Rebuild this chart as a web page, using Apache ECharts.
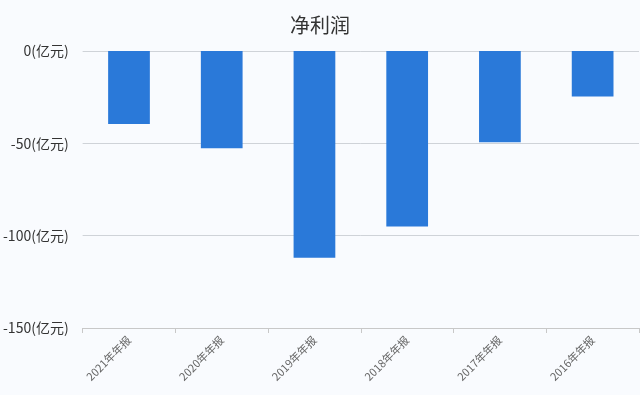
<!DOCTYPE html>
<html>
<head>
<meta charset="utf-8">
<script src="https://cdn.jsdelivr.net/npm/echarts@6/dist/echarts.min.js"></script>
<style>
html,body{margin:0;padding:0;background:#f9fbfe;}
#c{width:640px;height:395px;}
</style>
</head>
<body>
<div id="c"></div>
<script>
var categories = ['2021年年报','2020年年报','2019年年报','2018年年报','2017年年报','2016年年报'];
var netProfit = [-39.5, -52.7, -111.9, -95.1, -49.4, -24.7];
var titleText = '净利润';
var unit = '(亿元)';

var chart = echarts.init(document.getElementById('c'));
chart.setOption({
  backgroundColor: '#f9fbfe',
  textStyle: {fontFamily: '"Noto Sans CJK SC", "Noto Sans", sans-serif'},
  title: {
    text: titleText,
    left: 'center',
    top: 10,
    textStyle: {fontSize: 20, fontWeight: 'normal', color: '#333'}
  },
  grid: {left: 82, right: 1, top: 51, height: 277},
  xAxis: {
    type: 'category',
    data: categories,
    axisLine: {onZero: false, lineStyle: {color: '#c8c8c8'}},
    axisTick: {show: true, length: 5, lineStyle: {color: '#c8c8c8'}},
    axisLabel: {rotate: 45, fontSize: 11, color: '#666', margin: 10}
  },
  yAxis: {
    type: 'value',
    min: -150,
    max: 0,
    interval: 50,
    axisLine: {show: false},
    axisTick: {show: false},
    axisLabel: {
      fontSize: 14, color: '#333', margin: 14,
      formatter: function (v) { return v + unit; }
    },
    splitLine: {lineStyle: {color: '#cfd3d8'}}
  },
  series: [{
    type: 'bar',
    data: netProfit,
    barWidth: '45%',
    itemStyle: {color: '#2a79d9'}
  }]
});
</script>
</body>
</html>
